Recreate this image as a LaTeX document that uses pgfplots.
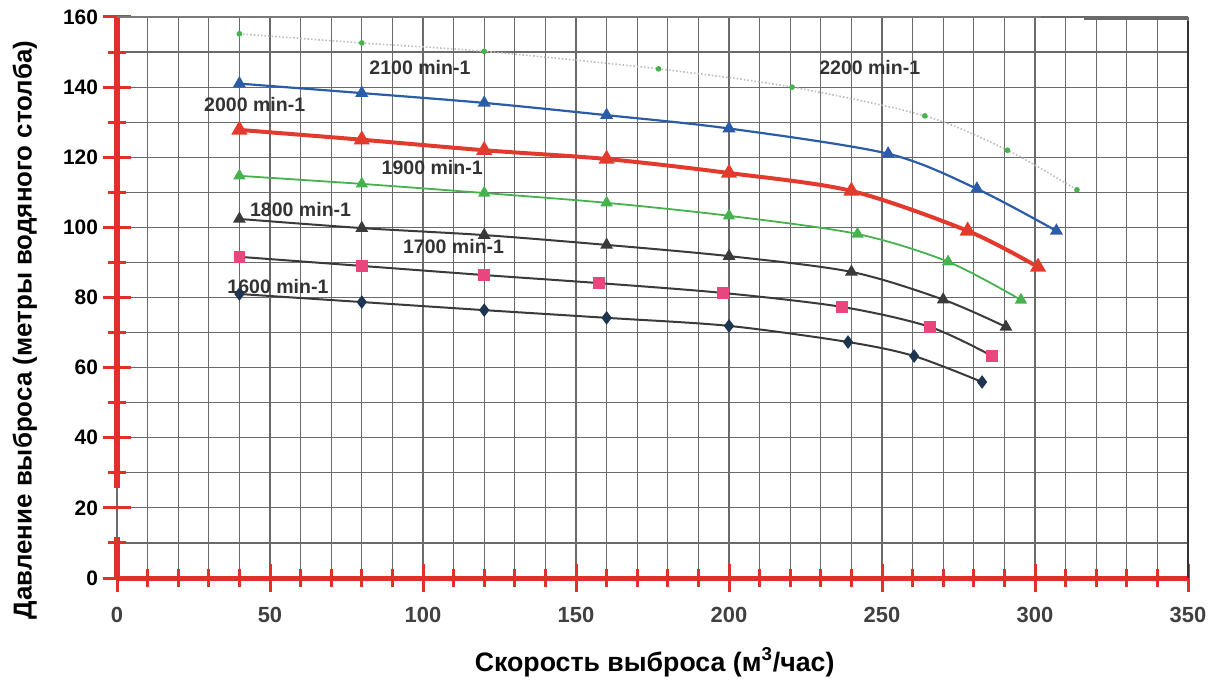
\documentclass[border=0pt]{standalone}
\usepackage{fontspec}
\setmainfont{Liberation Sans}
\usepackage{pgfplots}
\pgfplotsset{compat=1.18}
\definecolor{gridc}{HTML}{6A6A6A}
\definecolor{axred}{HTML}{E0302A}
\definecolor{c2000}{HTML}{2B5CA8}
\definecolor{c1900}{HTML}{E23A2C}
\definecolor{cgreen}{HTML}{45B24E}
\definecolor{cdark}{HTML}{3A3A3A}
\definecolor{cpink}{HTML}{E8467C}
\definecolor{cnavy}{HTML}{1E3550}
\definecolor{ctop}{HTML}{BDBDBD}
\begin{document}
\begin{tikzpicture}
\useasboundingbox (-58.5bp,-51bp) rectangle (554.5bp,289bp);
\begin{axis}[
  scale only axis,
  width=535.5bp, height=280.5bp,
  xmin=0, xmax=350, ymin=0, ymax=160,
  xtick={0,50,...,350}, minor tick num=4,
  ytick={0,20,...,160}, minor y tick num=1,
  xtick pos=left, ytick pos=left,
  grid=both,
  major grid style={gridc, line width=0.6bp},
  minor grid style={gridc, line width=0.6bp},
  axis line style={draw=none},
  major tick length=14bp, minor tick length=9bp,
  every tick/.style={axred, line width=1.5bp},
  tick align=center,
  /pgf/number format/assume math mode=true,
  xticklabel style={font=\bfseries\fontsize{11}{12}\selectfont, text=black!75, yshift=-4bp},
  yticklabel style={font=\bfseries\fontsize{10.5}{12}\selectfont, xshift=1bp},
  xlabel={Скорость выброса (м\textsuperscript{3}/час)},
  ylabel={Давление выброса (метры водяного столба)},
  xlabel style={font=\bfseries\fontsize{13.4}{15}\selectfont, at={(axis description cs:0.502,-0.15)}, anchor=center},
  ylabel style={font=\bfseries\fontsize{13}{15}\selectfont, at={(axis description cs:-0.086,0.442)}, anchor=center},
  clip=false,
]
% axis lines (scan style)
\draw[axred, line width=2.5bp] (axis cs:0,0) -- (axis cs:350,0);
\draw[axred, line width=2.5bp] (axis cs:0,160) -- (axis cs:0,25.6);
\draw[axred, line width=2.5bp] (axis cs:0,11.7) -- (axis cs:0,0);
\draw[black!80, line width=0.9bp] (axis cs:350,0) -- (axis cs:350,159);
\draw[gridc!90, line width=1.2bp] (axis cs:0,160) -- (axis cs:302,160);
\draw[gridc, line width=1.2bp] (axis cs:316,159.5) -- (axis cs:350,159.5);

% 2100 / 2200 min-1
\addplot[ctop, densely dotted, line width=0.8bp, smooth, mark=*, mark size=1bp,
  mark options={solid, fill=cgreen, draw=cgreen}]
  coordinates {(40,155.2) (80,152.6) (120,150.2) (177,145.2) (220.6,140) (264,131.8) (291,122) (313.7,110.7)};
% 2000 min-1
\addplot[c2000, line width=1.1bp, smooth, mark=triangle*, mark size=2.7bp]
  coordinates {(40,141) (80,138.3) (120,135.5) (160,132) (200,128.2) (252,121) (281,111) (307,99)};
% 1900 min-1
\addplot[c1900, line width=2bp, smooth, mark=triangle*, mark size=2.7bp]
  coordinates {(40,127.8) (80,125) (120,122) (160,119.5) (200,115.5) (240,110.4) (278,99) (301,88.7)};
% green
\addplot[cgreen, line width=0.9bp, smooth, mark=triangle*, mark size=2.7bp]
  coordinates {(40,114.7) (80,112.4) (120,109.8) (160,107) (200,103.3) (242,98.1) (271.6,90.2) (295.4,79.3)};
% 1800 min-1
\addplot[cdark, line width=1bp, smooth, mark=triangle*, mark size=2.7bp]
  coordinates {(40,102.4) (80,99.8) (120,97.8) (160,95) (200,91.8) (240,87.3) (270,79.4) (290.5,71.6)};
% 1700 min-1
\addplot[cdark, line width=1bp, smooth, mark=square*, mark size=2.4bp,
  mark options={fill=cpink, draw=cpink}]
  coordinates {(40,91.6) (80,89) (120,86.4) (157.5,84.1) (198,81.3) (237,77.3) (265.7,71.6) (286,63.3)};
% 1600 min-1
\addplot[cdark, line width=1bp, smooth, mark=diamond*, mark size=2.6bp,
  mark options={fill=cnavy, draw=cnavy}]
  coordinates {(40,81) (80,78.7) (120,76.4) (160,74.2) (200,71.9) (238.9,67.3) (260.5,63.3) (282.7,55.9)};

\begin{scope}[every node/.style={font=\bfseries\fontsize{9.8}{11}\selectfont, text=black!80}]
\node at (axis cs:99,145.5) {2100 min-1};
\node at (axis cs:246,145.5) {2200 min-1};
\node at (axis cs:45,135) {2000 min-1};
\node at (axis cs:103,117) {1900 min-1};
\node at (axis cs:60,105) {1800 min-1};
\node at (axis cs:110,94.4) {1700 min-1};
\node at (axis cs:52.6,83) {1600 min-1};
\end{scope}
\end{axis}
\end{tikzpicture}
\end{document}
